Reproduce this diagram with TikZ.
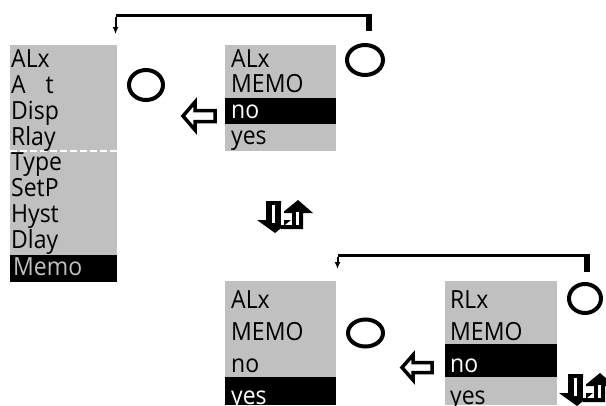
\documentclass[tikz,border=0pt]{standalone}
\usepackage{fontspec}
\setmainfont{Open Sans}[FakeStretch=0.92]
\usetikzlibrary{arrows.meta}
\definecolor{panelgray}{HTML}{C0C0C0}
\tikzset{
  txt/.style={anchor=base west, inner sep=0pt, font=\fontsize{25}{28}\selectfont, text=black},
  inv/.style={txt, text=white},
  invg/.style={txt, text=panelgray},
  ring/.style={draw=black, line width=4pt},
  hollowarrow/.style={draw=black, fill=white, line width=3.5pt, miter limit=10},
  updown/.pic={
    \fill[black] (9,1) -- (24,1) -- (24,20) -- (34,20) -- (18,33) -- (0,20) -- (9,20) -- cycle;
    \fill[white] (15,5) -- (18,5) -- (18,23) -- (15,23) -- cycle;
    \fill[black] (25,13) -- (41,0) -- (56,13) -- (46,13) -- (46,29) -- (24,29) -- (24,25) -- (35,25) -- (35,13) -- cycle;
    \fill[white] (39,12) -- (42,12) -- (42,25) -- (39,25) -- cycle;
    \fill[white] (24,5) -- (27,5) -- (27,25) -- (24,25) -- cycle;
  }
}
\begin{document}
\begin{tikzpicture}[x=1pt,y=-1pt]
\useasboundingbox (0,0) rectangle (606,405);
\fill[white] (0,0) rectangle (606,405);

% ---------- left panel ----------
\fill[panelgray] (10,45) rectangle (117,255);
\fill[black] (10,255) rectangle (117,282);
\draw[white, line width=1.5pt, dash pattern=on 7pt off 3pt] (10,151) -- (117,151);
\node[txt] (l1) at (11,67) {ALx};
\node[txt] (l2) at (11,93) {A\hspace{0.8em}t};
\node[txt] (l3) at (11,119) {Disp};
\node[txt] (l4) at (11,145) {Rlay};
\node[txt] (l5) at (11,170) {Type};
\node[txt] (l6) at (11,196) {SetP};
\node[txt] (l7) at (11,222) {Hyst};
\node[txt] (l8) at (11,248) {Dlay};
\node[invg] (l9) at (13,275) {Memo};

% ---------- top middle panel ----------
\fill[panelgray] (225,45) rectangle (336,151);
\fill[black] (225,98) rectangle (336,124);
\node[txt] (a1) at (231,67) {ALx};
\node[txt] (a2) at (231,92) {MEMO};
\node[inv] (a3) at (231,118) {no};
\node[txt] (a4) at (231,144) {yes};

% ---------- bottom left panel ----------
\fill[panelgray] (225,281) rectangle (336,377);
\fill[black] (225,377) rectangle (336,405);
\node[txt] (b1) at (231,308) {ALx};
\node[txt] (b2) at (231,340) {MEMO};
\node[txt] (b3) at (231,372) {no};
\node[inv] (b4) at (231,404) {yes};

% ---------- bottom right panel ----------
\fill[panelgray] (445,281) rectangle (557,405);
\fill[black] (445,344) rectangle (557,377);
\node[txt] (c1) at (450,308) {RLx};
\node[txt] (c2) at (450,340) {MEMO};
\node[inv] (c3) at (450,372) {no};
\node[txt] (c4) at (450,404) {yes};

% ---------- circles ----------
\draw[ring] (146,85) ellipse [x radius=17, y radius=15];
\draw[ring] (365,60) ellipse [x radius=18, y radius=15];
\draw[ring] (365.5,333) ellipse [x radius=17.5, y radius=13.5];
\draw[ring] (585,298.5) ellipse [x radius=16, y radius=14.5];

% ---------- hollow arrows ----------
\draw[hollowarrow] (183,116) -- (195,102) -- (195,110.5) -- (215,110.5) -- (215,121.5) -- (195,121.5) -- (195,130) -- cycle;
\draw[hollowarrow] (402,367.5) -- (413,355) -- (413,362.5) -- (432,362.5) -- (432,372.5) -- (413,372.5) -- (413,380) -- cycle;

% ---------- up/down symbols ----------
\pic at (257,200) {updown};
\pic at (559,373) {updown};

% ---------- top connector ----------
\coordinate (tR) at (369,31);
\coordinate (tL) at (115.5,34);
\coordinate (tY) at (0,15.5);
\draw[line width=6pt] (tR) -- (tR |- tY);
\draw[line width=3.5pt] ([xshift=3pt]tR |- tY) -- (tL |- tY);
\draw[line width=2pt, -{Latex[length=7pt,width=6pt]}] ([yshift=-1pt]tL |- tY) -- (tL);

% ---------- bottom connector ----------
\coordinate (uR) at (587,272);
\coordinate (uL) at (337.5,269);
\coordinate (uY) at (0,255.5);
\draw[line width=6pt] (uR) -- (uR |- uY);
\draw[line width=3.5pt] ([xshift=3pt]uR |- uY) -- (uL |- uY);
\draw[line width=2pt, -{Latex[length=7pt,width=6pt]}] ([yshift=-1pt]uL |- uY) -- (uL);
\end{tikzpicture}
\end{document}
